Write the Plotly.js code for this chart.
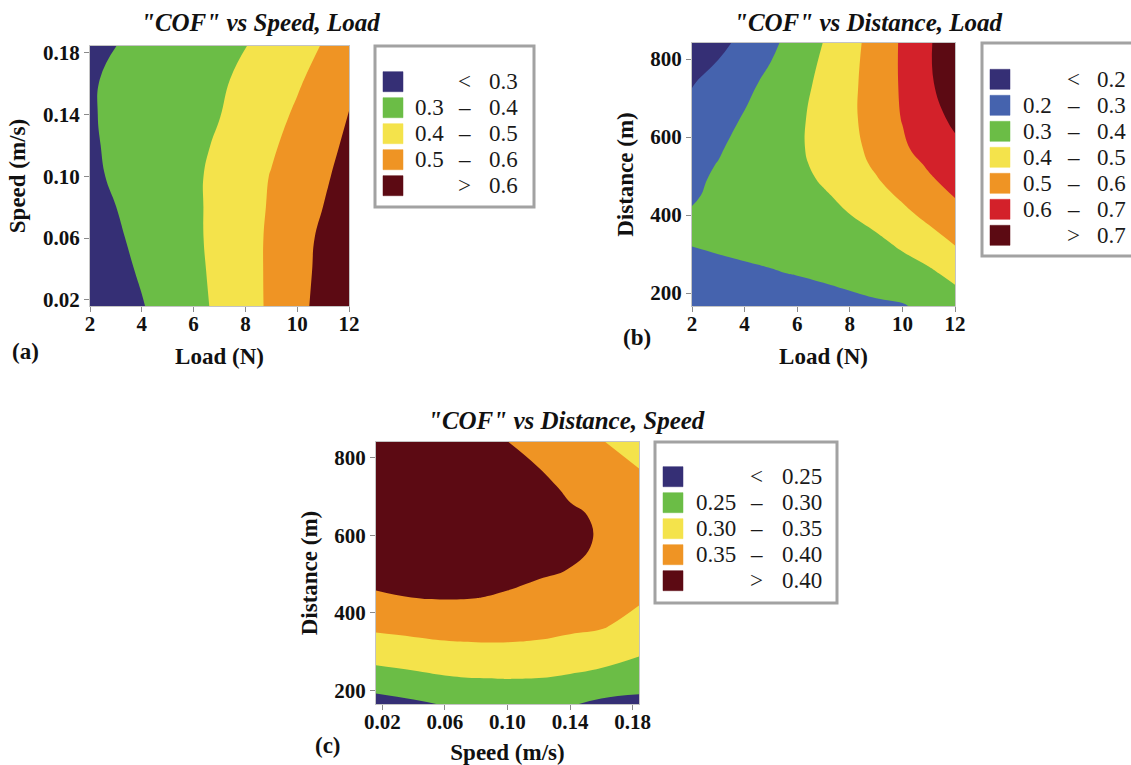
<!DOCTYPE html>
<html>
<head>
<meta charset="utf-8">
<script src="https://cdn.plot.ly/plotly-3.0.1.min.js"></script>
<style>
html,body{margin:0;padding:0;background:#ffffff;}
#chart{width:1131px;height:765px;}
</style>
</head>
<body>
<div id="chart"></div>
<script>
// ---------------- DATA ----------------
// (a) COF vs Speed, Load
const loadA  = [2, 3, 4, 5, 6, 7, 8, 9, 10, 11, 12];
const speedA = [0.016, 0.038, 0.06, 0.08, 0.10, 0.12, 0.14, 0.163, 0.1845];
const cofA = [
  [0.230, 0.259, 0.295, 0.335, 0.374, 0.417, 0.465, 0.515, 0.572, 0.632, 0.698],
  [0.248, 0.275, 0.309, 0.345, 0.380, 0.421, 0.467, 0.515, 0.568, 0.624, 0.685],
  [0.261, 0.289, 0.320, 0.353, 0.385, 0.424, 0.468, 0.514, 0.565, 0.617, 0.675],
  [0.276, 0.2995, 0.329, 0.358, 0.386, 0.423, 0.466, 0.509, 0.555, 0.6005, 0.650],
  [0.287, 0.309, 0.335, 0.361, 0.387, 0.421, 0.463, 0.504, 0.546, 0.587, 0.631],
  [0.291, 0.3128, 0.336, 0.359, 0.382, 0.410, 0.449, 0.489, 0.530, 0.573, 0.616],
  [0.294, 0.314, 0.335, 0.356, 0.377, 0.398, 0.434, 0.472, 0.512, 0.557, 0.603],
  [0.293, 0.3115, 0.331, 0.350, 0.369, 0.389, 0.416, 0.453, 0.489, 0.530, 0.573],
  [0.285, 0.2996, 0.319, 0.339, 0.358, 0.378, 0.398, 0.432, 0.468, 0.5045, 0.550]
];

// (b) COF vs Distance, Load
const loadB = [2, 3, 4, 5, 6, 7, 8, 9, 10, 11, 12];
const distB = [167, 250, 330, 410, 450, 490, 530, 570, 650, 740, 841];
const cofB = [
  [0.240, 0.248, 0.256, 0.264, 0.270, 0.277, 0.284, 0.290, 0.295, 0.318, 0.345],
  [0.287, 0.2917, 0.294, 0.2966, 0.302, 0.309, 0.318, 0.332, 0.351, 0.381, 0.429],
  [0.302, 0.305, 0.309, 0.316, 0.325, 0.337, 0.353, 0.378, 0.420, 0.464, 0.5075],
  [0.302, 0.309, 0.318, 0.330, 0.346, 0.366, 0.405, 0.445, 0.485, 0.528, 0.574],
  [0.296, 0.308, 0.322, 0.339, 0.358, 0.393, 0.4171, 0.471, 0.5128, 0.557, 0.605],
  [0.287, 0.310, 0.333, 0.357, 0.380, 0.407, 0.450, 0.4935, 0.540, 0.588, 0.630],
  [0.280, 0.3025, 0.329, 0.356, 0.384, 0.421, 0.466, 0.513, 0.562, 0.611, 0.654],
  [0.263, 0.293, 0.325, 0.356, 0.388, 0.428, 0.474, 0.526, 0.586, 0.635, 0.678],
  [0.232, 0.268, 0.306, 0.345, 0.384, 0.431, 0.482, 0.541, 0.6045, 0.661, 0.722],
  [0.194, 0.235, 0.277, 0.321, 0.370, 0.421, 0.479, 0.543, 0.611, 0.685, 0.762],
  [0.125, 0.174, 0.227, 0.281, 0.340, 0.402, 0.469, 0.538, 0.612, 0.689, 0.769]
];

// (c) COF vs Distance, Speed
const speedC = [0.016, 0.04, 0.06, 0.08, 0.10, 0.12, 0.14, 0.16, 0.1841];
const distC  = [165, 230, 300, 370, 440, 510, 580, 650, 720, 780, 840];
const cofC = [
  [0.2305, 0.242, 0.253, 0.260, 0.262, 0.259, 0.254, 0.240, 0.237],
  [0.2775, 0.287, 0.295, 0.299, 0.3003, 0.299, 0.293, 0.285, 0.2706],
  [0.323, 0.330, 0.3356, 0.3386, 0.340, 0.338, 0.332, 0.323, 0.3066],
  [0.3616, 0.367, 0.371, 0.3716, 0.369, 0.3657, 0.360, 0.356, 0.3337],
  [0.396, 0.4005, 0.4025, 0.401, 0.396, 0.388, 0.380, 0.375, 0.357],
  [0.412, 0.414, 0.416, 0.414, 0.412, 0.406, 0.3992, 0.388, 0.370],
  [0.421, 0.423, 0.425, 0.422, 0.419, 0.413, 0.407, 0.397, 0.377],
  [0.424, 0.427, 0.428, 0.425, 0.421, 0.414, 0.405, 0.396, 0.377],
  [0.421, 0.425, 0.426, 0.4235, 0.418, 0.409, 0.395, 0.385, 0.368],
  [0.415, 0.420, 0.421, 0.419, 0.411, 0.399, 0.383, 0.372, 0.347],
  [0.407, 0.413, 0.414, 0.412, 0.4005, 0.385, 0.369, 0.353, 0.325]
];

// tick values / labels
const loadTicks = [2, 4, 6, 8, 10, 12];
const speedTicks = [0.02, 0.06, 0.10, 0.14, 0.18];
const speedTickText = ['0.02', '0.06', '0.10', '0.14', '0.18'];
const distTicks = [200, 400, 600, 800];

// contour levels
const levelsA = {start: 0.3, end: 0.6, size: 0.1};
const levelsB = {start: 0.2, end: 0.7, size: 0.1};
const levelsC = {start: 0.25, end: 0.40, size: 0.05};

// legend texts
const legLowA  = ['', '0.3', '0.4', '0.5', ''];
const legSymA  = ['<', '–', '–', '–', '>'];
const legHighA = ['0.3', '0.4', '0.5', '0.6', '0.6'];
const legLowB  = ['', '0.2', '0.3', '0.4', '0.5', '0.6', ''];
const legSymB  = ['<', '–', '–', '–', '–', '–', '>'];
const legHighB = ['0.2', '0.3', '0.4', '0.5', '0.6', '0.7', '0.7'];
const legLowC  = ['', '0.25', '0.30', '0.35', ''];
const legSymC  = ['<', '–', '–', '–', '>'];
const legHighC = ['0.25', '0.30', '0.35', '0.40', '0.40'];

const titles = ['"COF" vs Speed, Load', '"COF" vs Distance, Load', '"COF" vs Distance, Speed'];
const panelLabels = ['(a)', '(b)', '(c)'];

// ---------------- STYLE ----------------
const NAVY = '#352f75', BLUE = '#4563ae', GREEN = '#6bbd46', YELLOW = '#f4e34b',
      ORANGE = '#ef9424', RED = '#d3212a', DARKRED = '#5c0a13';
const colorsA = [NAVY, GREEN, YELLOW, ORANGE, DARKRED];
const colorsB = [NAVY, BLUE, GREEN, YELLOW, ORANGE, RED, DARKRED];
const colorsC = [NAVY, GREEN, YELLOW, ORANGE, DARKRED];

const SERIF = '"Liberation Serif", "Times New Roman", Times, serif';
const W = 1131, H = 765;
const px = v => v / W;
const py = v => 1 - v / H;

function contourTrace(x, y, z, lv, colors, xa, ya) {
  const n = colors.length - 1;
  return {
    type: 'contour', x: x, y: y, z: z, xaxis: xa, yaxis: ya,
    autocontour: false,
    contours: {start: lv.start, end: lv.end, size: lv.size, coloring: 'fill', showlines: false},
    line: {width: 0, smoothing: 1.3},
    colorscale: colors.map((c, i) => [i / n, c]),
    showscale: false, hoverinfo: 'skip'
  };
}

function axis(domainPx, range, tickvals, ticktext, title, anchor, standoff, isY) {
  const dom = isY ? [py(domainPx[1]), py(domainPx[0])] : [px(domainPx[0]), px(domainPx[1])];
  return {
    domain: dom, range: range, anchor: anchor,
    tickmode: 'array', tickvals: tickvals, ticktext: ticktext,
    ticks: 'outside', ticklen: 5, tickwidth: 1, tickcolor: '#8a8a8a',
    ticklabelstandoff: isY ? 0 : -6,
    showline: true, linecolor: '#c4c4c4', linewidth: 1, mirror: true,
    showgrid: false, zeroline: false, fixedrange: true,
    tickfont: {family: SERIF, size: 21, weight: 'bold', color: '#111'},
    title: {text: title, standoff: standoff, font: {family: SERIF, size: 23, weight: 'bold', color: '#111'}}
  };
}

const shapes = [];
const annotations = [];

function addLegend(box, swX, row0, lowRight, symX, highLeft, colors, lows, syms, highs) {
  shapes.push({type: 'rect', xref: 'paper', yref: 'paper',
    x0: px(box[0]), x1: px(box[1]), y0: py(box[3]), y1: py(box[2]),
    line: {color: '#a2a2a2', width: 3}, fillcolor: 'rgba(0,0,0,0)'});
  const f = {family: SERIF, size: 23, color: '#1a1a1a'};
  colors.forEach((c, i) => {
    const yc = row0 + 26 * i;
    shapes.push({type: 'rect', xref: 'paper', yref: 'paper',
      x0: px(swX), x1: px(swX + 20), y0: py(yc + 10), y1: py(yc - 10),
      line: {color: c, width: 0.5}, fillcolor: c});
    if (lows[i]) annotations.push({text: lows[i], xref: 'paper', yref: 'paper', x: px(lowRight), y: py(yc),
      xanchor: 'right', yanchor: 'middle', showarrow: false, font: f});
    annotations.push({text: syms[i], xref: 'paper', yref: 'paper', x: px(symX), y: py(yc),
      xanchor: 'center', yanchor: 'middle', showarrow: false, font: f});
    annotations.push({text: highs[i], xref: 'paper', yref: 'paper', x: px(highLeft), y: py(yc),
      xanchor: 'left', yanchor: 'middle', showarrow: false, font: f});
  });
}

addLegend([375, 534, 46, 207], 383, 81.7, 446, 464.5, 487, colorsA, legLowA, legSymA, legHighA);
addLegend([982, 1140, 43, 256], 990, 79.3, 1053.5, 1073, 1095, colorsB, legLowB, legSymB, legHighB);
addLegend([655, 837, 442, 603], 663, 476.7, 738, 756.5, 780, colorsC, legLowC, legSymC, legHighC);

const titlePos = [[260, 22.7], [868, 22.7], [566, 420]];
titles.forEach((t, i) => annotations.push({text: t, xref: 'paper', yref: 'paper',
  x: px(titlePos[i][0]), y: py(titlePos[i][1]), xanchor: 'center', yanchor: 'middle', showarrow: false,
  font: {family: SERIF, size: 25, weight: 'bold', style: 'italic', color: '#111'}}));

const labelPos = [[25, 352], [637, 337], [327.5, 745]];
panelLabels.forEach((t, i) => annotations.push({text: t, xref: 'paper', yref: 'paper',
  x: px(labelPos[i][0]), y: py(labelPos[i][1]), xanchor: 'center', yanchor: 'middle', showarrow: false,
  font: {family: SERIF, size: 23, weight: 'bold', color: '#111'}}));

const data = [
  contourTrace(loadA, speedA, cofA, levelsA, colorsA, 'x', 'y'),
  contourTrace(loadB, distB, cofB, levelsB, colorsB, 'x2', 'y2'),
  contourTrace(speedC, distC, cofC, levelsC, colorsC, 'x3', 'y3')
];

const layout = {
  width: W, height: H,
  margin: {l: 0, r: 0, t: 0, b: 0, pad: 0},
  paper_bgcolor: '#ffffff', plot_bgcolor: '#ffffff',
  showlegend: false,
  xaxis:  axis([90, 349], [2, 12], loadTicks, loadTicks.map(String), 'Load (N)', 'y', 12, false),
  yaxis:  axis([46, 306], [0.016, 0.1845], speedTicks, speedTickText, 'Speed (m/s)', 'x', 10, true),
  xaxis2: axis([692, 955], [2, 12], loadTicks, loadTicks.map(String), 'Load (N)', 'y2', 12, false),
  yaxis2: axis([43, 306], [167, 841], distTicks, distTicks.map(String), 'Distance (m)', 'x2', 10, true),
  xaxis3: axis([376, 639], [0.016, 0.1841], speedTicks, speedTickText, 'Speed (m/s)', 'y3', 12, false),
  yaxis3: axis([442, 704], [165, 840], distTicks, distTicks.map(String), 'Distance (m)', 'x3', 10, true),
  shapes: shapes,
  annotations: annotations
};

Plotly.newPlot('chart', data, layout, {displayModeBar: false, staticPlot: true});
</script>
</body>
</html>
